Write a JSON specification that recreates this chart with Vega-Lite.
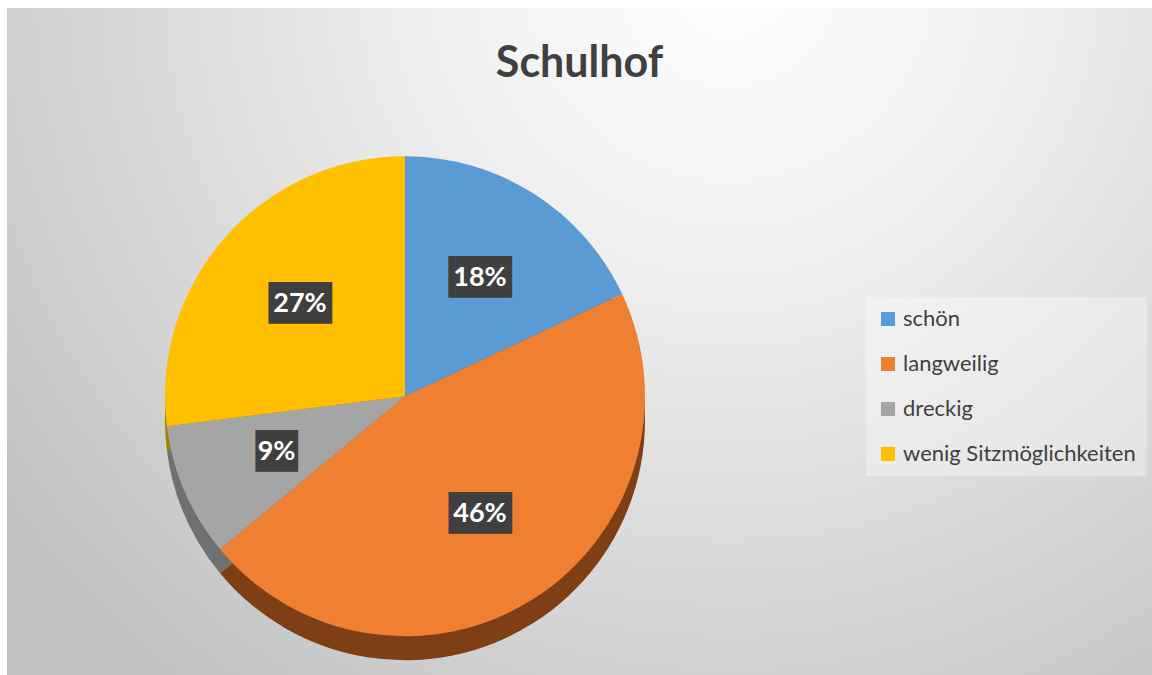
{
  "$schema": "https://vega.github.io/schema/vega-lite/v6.json",
  "width": 1152,
  "height": 675,
  "autosize": {"type": "fit", "contains": "padding"},
  "padding": {"top": 8, "left": 7, "right": 0, "bottom": 0},
  "background": "white",
  "title": {
    "text": "Schulhof",
    "fontSize": 43,
    "font": "Lato",
    "fontWeight": "bold",
    "color": "#404040",
    "offset": -78,
    "anchor": "middle",
    "frame": "group"
  },
  "config": {
    "view": {
      "stroke": null,
      "fill": {
        "gradient": "radial",
        "x1": 0.63, "y1": 0.18, "r1": 0,
        "x2": 0.63, "y2": 0.18, "r2": 0.8,
        "stops": [
          {"offset": 0, "color": "#ffffff"},
          {"offset": 0.35, "color": "#eeeeee"},
          {"offset": 1, "color": "#c0c0c0"}
        ]
      }
    }
  },
  "data": {
    "values": [
      {"idx": 1, "cat": "schön", "pct": 0.18},
      {"idx": 2, "cat": "langweilig", "pct": 0.46},
      {"idx": 3, "cat": "dreckig", "pct": 0.09},
      {"idx": 4, "cat": "wenig Sitzmöglichkeiten", "pct": 0.27}
    ]
  },
  "transform": [
    {"calculate": "datum.pct < 0.1 ? '██' : '███'", "as": "box"}
  ],
  "encoding": {
    "x": {"datum": 0.3476, "type": "quantitative", "scale": {"domain": [0, 1]}, "axis": null},
    "y": {"datum": 0.418, "type": "quantitative", "scale": {"domain": [0, 1]}, "axis": null},
    "theta": {"field": "pct", "type": "quantitative", "stack": true},
    "order": {"field": "idx"}
  },
  "layer": [
    {
      "mark": {"type": "arc", "outerRadius": 240, "yOffset": 24},
      "encoding": {
        "color": {
          "field": "cat",
          "type": "nominal",
          "scale": {
            "domain": ["schön", "langweilig", "dreckig", "wenig Sitzmöglichkeiten"],
            "range": ["#3d6e9c", "#7e3f17", "#707070", "#a87e00"]
          },
          "legend": null
        }
      }
    },
    {
      "mark": {"type": "arc", "outerRadius": 240},
      "encoding": {
        "color": {
          "field": "cat",
          "type": "nominal",
          "scale": {
            "domain": ["schön", "langweilig", "dreckig", "wenig Sitzmöglichkeiten"],
            "range": ["#5b9bd5", "#ef7f31", "#a5a5a5", "#ffc000"]
          },
          "legend": {
            "title": null,
            "orient": "none",
            "legendX": 859,
            "legendY": 289,
            "symbolType": "square",
            "symbolSize": 196,
            "symbolStrokeWidth": 0,
            "labelFont": "Lato",
            "labelFontSize": 22,
            "labelColor": "#404040",
            "labelLimit": 400,
            "labelOffset": 4,
            "rowPadding": 23,
            "padding": 11,
            "fillColor": "rgba(255,255,255,0.35)"
          }
        }
      }
    },
    {
      "mark": {
        "type": "text",
        "radius": 140,
        "font": "DejaVu Sans Mono",
        "fontSize": 35,
        "baseline": "middle",
        "align": "center",
        "color": "#3f3f3f"
      },
      "encoding": {"text": {"field": "box"}}
    },
    {
      "mark": {
        "type": "text",
        "radius": 140,
        "font": "Lato",
        "fontWeight": "bold",
        "fontSize": 27,
        "baseline": "middle",
        "align": "center",
        "color": "white"
      },
      "encoding": {"text": {"field": "pct", "type": "quantitative", "format": ".0%"}}
    }
  ],
  "resolve": {"scale": {"color": "independent"}, "legend": {"color": "independent"}}
}
